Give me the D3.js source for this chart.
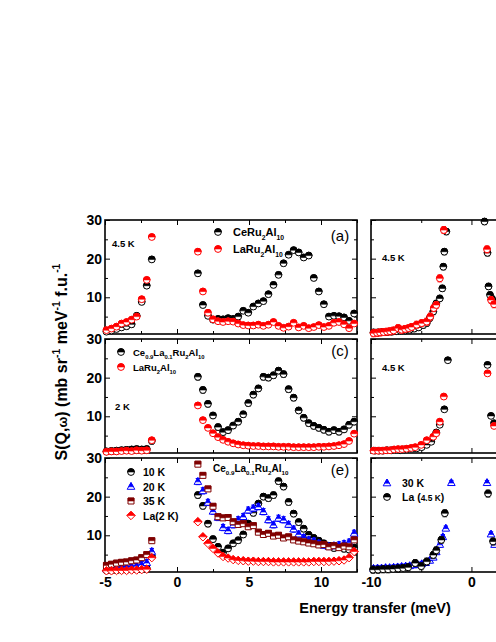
<!DOCTYPE html>
<html>
<head>
<meta charset="utf-8">
<script src="https://cdn.jsdelivr.net/npm/d3@7"></script>
<style>
  body { margin: 0; background: #fff; }
  svg { display: block; }
</style>
</head>
<body>
<div id="chart"></div>
<script>
// energy grids of the left panels (meV)
const eLow = [-4.9, -4.55, -4.2, -3.85, -3.5, -3.15, -2.8, -2.45, -2.1, -1.75];
const eHigh = [1.45, 1.8, 2.15, 2.5, 2.85, 3.2, 3.55, 3.9, 4.25, 4.6, 4.95, 5.3, 5.65, 6.0, 6.35, 6.7,
  7.05, 7.4, 7.75, 8.1, 8.45, 8.8, 9.15, 9.5, 9.85, 10.2, 10.55, 10.9, 11.25, 11.6, 11.95, 12.3];

// (a) 4.5 K
const aCeLow = [1.1, 1.4, 1.8, 2.2, 2.5, 3.0, 5.2, 8.8, 13.0, 19.8];
const aLaLow = [1.5, 1.9, 2.4, 3.2, 3.6, 4.2, 5.0, 9.5, 14.5, 25.6];
const aCeHigh = [16.2, 8.0, 5.2, 4.2, 4.4, 4.3, 4.6, 4.4, 5.0, 6.5, 6.0, 7.6, 8.4, 9.0, 10.8, 13.2,
  15.8, 18.8, 21.0, 22.2, 21.6, 20.3, 20.8, 15.0, 11.5, 8.2, 5.0, 5.2, 5.1, 4.8, 3.9, 5.8];
const aLaHigh = [21.8, 11.5, 6.0, 4.3, 3.8, 3.6, 3.8, 3.7, 3.2, 2.8, 2.7, 2.7, 2.9, 2.6, 2.9, 3.6,
  2.6, 2.1, 2.4, 3.4, 2.2, 2.6, 2.0, 2.3, 2.8, 2.3, 2.6, 3.4, 3.6, 3.0, 2.0, 3.2];

// (c) 2 K
const cCeLow = [0.9, 1.0, 1.1, 1.2, 1.3, 1.4, 1.5, 1.4, 1.5, 3.6];
const cLaLow = [0.8, 0.9, 0.9, 1.0, 1.1, 1.0, 1.2, 1.1, 1.2, 3.8];
const cCeHigh = [20.2, 16.8, 13.2, 10.2, 7.2, 5.9, 6.4, 7.6, 8.6, 10.5, 13.4, 15.6, 17.2, 20.2, 20.0, 20.6,
  21.8, 20.9, 17.0, 14.8, 11.5, 9.6, 8.2, 7.5, 7.0, 6.5, 6.0, 6.4, 6.0, 6.6, 7.8, 8.6];
const cLaHigh = [12.8, 9.0, 7.0, 5.6, 4.6, 3.9, 3.4, 3.0, 2.7, 2.5, 2.4, 2.3, 2.3, 2.2, 2.2, 2.2,
  2.1, 2.1, 2.1, 2.0, 2.0, 2.0, 2.0, 2.0, 2.1, 2.1, 2.2, 2.3, 2.5, 2.8, 3.6, 5.5];

// (e) temperature series
const e10Low = [0.9, 1.0, 1.0, 1.1, 1.1, 1.2, 1.2, 1.3, 1.4, 4.6];
const e20Low = [1.3, 1.4, 1.5, 1.6, 1.8, 1.9, 2.1, 2.4, 2.9, 5.8];
const e35Low = [2.2, 2.5, 2.8, 3.0, 3.1, 3.4, 3.6, 4.2, 5.0, 8.6];
const eLaLow = [0.8, 0.8, 0.9, 0.9, 0.9, 1.0, 1.0, 1.1, 1.2, 4.2];
const e10High = [20.4, 17.6, 13.0, 9.0, 7.0, 5.5, 6.6, 7.9, 8.7, 10.2, 13.0, 15.8, 18.2, 20.0, 19.6, 20.4,
  24.0, 22.6, 18.6, 15.6, 13.4, 11.7, 10.1, 9.3, 8.6, 7.9, 7.3, 6.7, 7.0, 6.5, 6.3, 6.8];
const e20High = [23.9, 21.5, 18.5, 16.2, 14.6, 12.0, 11.2, 12.7, 14.0, 14.8, 16.5, 17.0, 17.4, 16.1, 14.0, 12.7,
  14.4, 14.0, 12.8, 11.6, 10.3, 9.4, 8.8, 8.5, 7.9, 7.4, 7.1, 7.3, 7.5, 7.8, 8.2, 10.5];
const e35High = [28.4, 25.5, 22.0, 17.5, 14.8, 14.5, 14.6, 13.5, 12.8, 13.0, 12.2, 12.5, 10.8, 10.2, 10.5, 9.8,
  10.0, 9.3, 9.6, 8.8, 8.5, 8.3, 8.0, 7.8, 7.5, 7.6, 7.0, 7.3, 6.8, 7.2, 7.0, 8.8];
const eLaHigh = [13.5, 9.6, 7.9, 6.6, 5.4, 4.5, 4.1, 3.7, 3.5, 3.4, 3.3, 3.3, 3.2, 3.2, 3.2, 3.1,
  3.1, 3.1, 3.1, 3.1, 3.1, 3.1, 3.1, 3.2, 3.2, 3.2, 3.2, 3.3, 3.4, 3.6, 4.2, 5.8];

// right column, [energy, S]
const bCe = [[-9.75, 0.9], [-9.3, 0.9], [-8.85, 1.0], [-8.4, 1.0], [-7.95, 1.1], [-7.5, 1.2], [-7.05, 1.3],
  [-6.6, 1.4], [-6.15, 1.6], [-5.7, 1.9], [-5.25, 2.2], [-4.8, 2.8], [-4.45, 3.3], [-4.15, 4.6], [-3.8, 6.3],
  [-3.5, 8.4], [-3.15, 9.7], [-2.9, 12.3], [-2.8, 17.9], [-2.7, 21.8], [-2.5, 27.0],
  [1.3, 29.6], [1.6, 21.5], [1.7, 12.8], [1.85, 10.6], [2.05, 9.6], [2.3, 8.8]];
const bLa = [[-9.75, 0.7], [-9.4, 0.8], [-9.1, 0.9], [-8.75, 1.0], [-8.4, 1.1], [-8.1, 1.2], [-7.75, 1.4],
  [-7.3, 2.0], [-6.95, 1.6], [-6.6, 1.8], [-6.25, 2.0], [-5.95, 2.3], [-5.45, 2.9], [-4.95, 3.3], [-4.45, 3.7],
  [-4.1, 5.0], [-3.75, 7.2], [-3.5, 8.0], [-3.15, 14.9], [-2.75, 27.4],
  [1.55, 22.4], [1.95, 9.3], [2.25, 8.2]];
const dCe = [[-9.6, 1.1], [-9.2, 1.1], [-8.8, 1.1], [-8.4, 1.2], [-7.95, 1.2], [-7.55, 1.3], [-7.1, 1.2],
  [-6.7, 1.4], [-6.3, 1.5], [-5.9, 1.6], [-5.45, 1.7], [-4.95, 2.0], [-4.45, 2.6], [-4.0, 3.4], [-3.5, 5.8],
  [-3.15, 7.8], [-2.7, 11.8], [-2.35, 24.5], [1.6, 23.3], [1.95, 10.1], [2.25, 8.2]];
const dLa = [[-9.75, 1.1], [-9.3, 1.1], [-8.9, 1.1], [-8.5, 1.2], [-8.1, 1.2], [-7.7, 1.4], [-7.3, 1.5],
  [-6.9, 1.5], [-6.45, 1.6], [-6.0, 1.8], [-5.6, 2.0], [-5.0, 2.6], [-4.45, 3.8], [-3.8, 4.7], [-3.5, 5.6],
  [-3.15, 8.6], [-2.75, 15.1], [1.6, 21.1], [2.25, 7.5]];
const f30 = [[-9.75, 1.4], [-9.35, 1.5], [-8.95, 1.5], [-8.55, 1.6], [-8.15, 1.6], [-7.75, 1.7], [-7.35, 1.8],
  [-6.95, 1.9], [-6.55, 2.0], [-6.15, 2.1], [-5.75, 2.3], [-5.35, 2.4], [-4.95, 2.6], [-4.55, 2.9], [-4.15, 3.5],
  [-3.8, 4.3], [-3.5, 5.7], [-3.15, 7.6], [-2.85, 9.6], [-2.55, 11.8], [-2.0, 23.6],
  [1.55, 23.6], [1.95, 10.3], [2.3, 7.6]];
const fLa = [[-9.8, 1.1], [-9.3, 1.1], [-8.8, 1.2], [-8.3, 1.2], [-7.8, 1.3], [-7.3, 1.4], [-6.8, 1.5],
  [-6.3, 1.7], [-5.6, 2.8], [-5.0, 2.0], [-4.45, 3.2], [-3.8, 4.9], [-3.5, 6.1], [-3.0, 8.8], [-2.65, 15.7],
  [1.65, 20.8], [2.15, 8.4]];

// ticks
const yMajor = [10, 20, 30], yMinor = [5, 15, 25];
const xMajorL = [-5, 0, 5, 10], xMinorL = [-2.5, 2.5, 7.5, 12.5];
const xMajorR = [-10, 0, 10], xMinorR = [-5, 5];

const W = 496, H = 642;
const FONT = "'Liberation Sans', Arial, Helvetica, sans-serif";
const svg = d3.select("#chart").append("svg").attr("width", W).attr("height", H);

const xL = d3.scaleLinear().domain([-5, 12.5]).range([105, 357]);
const xR = d3.scaleLinear().domain([-10, 12.5]).range([371, 597]);
const rowTops = [220, 339, 458], rowH = 114;
const yRow = rowTops.map(t => d3.scaleLinear().domain([0.5, 30]).range([t + rowH, t]));

const SHAPES = {
  circle:   { full: "M-3.4,0A3.4,3.4 0 1,1 3.4,0A3.4,3.4 0 1,1 -3.4,0Z", top: "M-3.4,0A3.4,3.4 0 0,1 3.4,0Z" },
  triangle: { full: "M0,-4L3.8,2.8L-3.8,2.8Z", top: "M0,-4L2.4,0.3L-2.4,0.3Z" },
  square:   { full: "M-3,-3H3V3H-3Z", top: "M-3,-3H3V0H-3Z" },
  diamond:  { full: "M0,-4.2L4.2,0L0,4.2L-4.2,0Z", top: "M0,-4.2L4.2,0L-4.2,0Z" }
};

function styleText(sel, size, weight) {
  sel.attr("font-family", FONT).attr("font-size", size).attr("font-weight", weight || "bold").attr("fill", "#000");
}

function panel(x, y, xMajor, xMinor, xLabels, yLabels) {
  const g = svg.append("g");
  const [x0, x1] = x.range(), [y0, y1] = y.range();
  const put = (axis, tx, ty) => g.append("g")
    .attr("transform", `translate(${tx},${ty})`)
    .call(axis)
    .call(s => s.select(".domain").remove());
  // labels only where they fit inside the picture
  const fmt = d => (x(d) < W - 8 ? String(d) : "");
  // major + minor, all pointing inward
  const b = put(d3.axisBottom(x).tickValues(xMajor).tickSize(-5).tickSizeOuter(0).tickPadding(5).tickFormat(xLabels ? fmt : ""), 0, y0);
  put(d3.axisBottom(x).tickValues(xMinor).tickSize(-3).tickFormat(""), 0, y0);
  put(d3.axisTop(x).tickValues(xMajor).tickSize(-5).tickFormat(""), 0, y1);
  put(d3.axisTop(x).tickValues(xMinor).tickSize(-3).tickFormat(""), 0, y1);
  const l = put(d3.axisLeft(y).tickValues(yMajor).tickSize(-5).tickPadding(3).tickFormat(yLabels ? String : ""), x0, 0);
  put(d3.axisLeft(y).tickValues(yMinor).tickSize(-3).tickFormat(""), x0, 0);
  put(d3.axisRight(y).tickValues(yMajor).tickSize(-5).tickFormat(""), x1, 0);
  put(d3.axisRight(y).tickValues(yMinor).tickSize(-3).tickFormat(""), x1, 0);
  g.selectAll(".tick line").attr("stroke", "#000").attr("stroke-width", 1);
  styleText(b.selectAll("text"), 14);
  styleText(l.selectAll("text"), 14);
  g.append("rect")
    .attr("x", x0).attr("y", y1)
    .attr("width", x1 - x0).attr("height", y0 - y1)
    .attr("fill", "none").attr("stroke", "#000").attr("stroke-width", 1.6);
  return g;
}

function marker(g, shape, color) {
  g.append("path").attr("d", SHAPES[shape].full).attr("fill", "#fff").attr("stroke", color).attr("stroke-width", 1);
  g.append("path").attr("d", SHAPES[shape].top).attr("fill", color).attr("stroke", color).attr("stroke-width", 0.6);
}

function series(x, y, pts, shape, color, err) {
  const g = svg.append("g");
  const eb = g.selectAll("g.eb").data(pts).join("g").attr("class", "eb").attr("stroke", color).attr("stroke-width", 1);
  eb.append("line")
    .attr("x1", d => x(d[0])).attr("x2", d => x(d[0]))
    .attr("y1", d => y(d[1] - err)).attr("y2", d => y(d[1] + err));
  eb.append("line")
    .attr("x1", d => x(d[0]) - 2.2).attr("x2", d => x(d[0]) + 2.2)
    .attr("y1", d => y(d[1] + err)).attr("y2", d => y(d[1] + err));
  eb.append("line")
    .attr("x1", d => x(d[0]) - 2.2).attr("x2", d => x(d[0]) + 2.2)
    .attr("y1", d => y(d[1] - err)).attr("y2", d => y(d[1] - err));
  g.selectAll("g.mk").data(pts).join("g").attr("class", "mk")
    .attr("transform", d => `translate(${x(d[0])},${y(d[1])})`)
    .each(function () { marker(d3.select(this), shape, color); });
}

// text with sub/superscripts: parts = [[str, "n"|"sub"|"sup"|"small"], ...]
function rich(x, y, parts, size, anchor) {
  const t = svg.append("text").attr("x", x).attr("y", y).attr("text-anchor", anchor || "start");
  styleText(t, size);
  let shift = 0;
  parts.forEach(([s, kind]) => {
    const ts = t.append("tspan").text(s);
    let target = 0, fs = size;
    if (kind === "sub") { target = size * 0.32; fs = size * 0.62; }
    if (kind === "sup") { target = -size * 0.42; fs = size * 0.65; }
    if (kind === "small") { fs = size * 0.8; }
    ts.attr("font-size", fs).attr("dy", target - shift);
    shift = target;
  });
  return t;
}

function legendMark(x, y, shape, color) {
  marker(svg.append("g").attr("transform", `translate(${x},${y})`), shape, color);
}

const zipL = (lo, hi) => d3.zip(eLow, lo).concat(d3.zip(eHigh, hi));

// frames
panel(xL, yRow[0], xMajorL, xMinorL, false, true);
panel(xL, yRow[1], xMajorL, xMinorL, false, true);
panel(xL, yRow[2], xMajorL, xMinorL, true, true);
panel(xR, yRow[0], xMajorR, xMinorR, false, false);
panel(xR, yRow[1], xMajorR, xMinorR, false, false);
panel(xR, yRow[2], xMajorR, xMinorR, true, false);

// (a)
series(xL, yRow[0], zipL(aCeLow, aCeHigh), "circle", "#000", 0.7);
series(xL, yRow[0], zipL(aLaLow, aLaHigh), "circle", "#f00", 0.6);
// (c)
series(xL, yRow[1], zipL(cCeLow, cCeHigh), "circle", "#000", 0.8);
series(xL, yRow[1], zipL(cLaLow, cLaHigh), "circle", "#f00", 0.3);
// (e)
series(xL, yRow[2], zipL(e10Low, e10High), "circle", "#000", 0.8);
series(xL, yRow[2], zipL(e20Low, e20High), "triangle", "#0000ff", 0.8);
series(xL, yRow[2], zipL(e35Low, e35High), "square", "#800000", 0.6);
series(xL, yRow[2], zipL(eLaLow, eLaHigh), "diamond", "#f00", 0.3);
// right column
series(xR, yRow[0], bCe, "circle", "#000", 0.8);
series(xR, yRow[0], bLa, "circle", "#f00", 0.9);
series(xR, yRow[1], dCe, "circle", "#000", 0.6);
series(xR, yRow[1], dLa, "circle", "#f00", 0.6);
series(xR, yRow[2], f30, "triangle", "#0000ff", 0.6);
series(xR, yRow[2], fLa, "circle", "#000", 0.9);

// panel texts
rich(112, 247, [["4.5 K", "n"]], 9.5);
rich(115, 410, [["2 K", "n"]], 9.5);
rich(382, 261, [["4.5 K", "n"]], 9.5);
rich(382, 371, [["4.5 K", "n"]], 9.5);
[["(a)", 241], ["(c)", 356], ["(e)", 475]].forEach(([s, yy]) => {
  const t = svg.append("text").attr("x", 340).attr("y", yy).attr("text-anchor", "middle").text(s);
  styleText(t, 15, "normal");
});

const ce09 = [["Ce", "n"], ["0.9", "sub"], ["La", "n"], ["0.1", "sub"], ["Ru", "n"], ["2", "sub"], ["Al", "n"], ["10", "sub"]];
const la = [["LaRu", "n"], ["2", "sub"], ["Al", "n"], ["10", "sub"]];

// legend (a)
legendMark(218, 232, "circle", "#000");
rich(233, 236, [["CeRu", "n"], ["2", "sub"], ["Al", "n"], ["10", "sub"]], 11);
legendMark(218, 249, "circle", "#f00");
rich(233, 253, la, 11);
// legend (c)
legendMark(121, 352, "circle", "#000");
rich(133, 356, ce09, 9.5);
legendMark(121, 367, "circle", "#f00");
rich(133, 371, la, 9.5);
// legend (e)
rich(213, 472, ce09, 10);
[["10 K", "circle", "#000"], ["20 K", "triangle", "#0000ff"], ["35 K", "square", "#800000"], ["La(2 K)", "diamond", "#f00"]]
  .forEach(([s, shape, color], i) => {
    legendMark(131, 472 + i * 14.5, shape, color);
    rich(143, 476 + i * 14.5, [[s, "n"]], 10.5);
  });
// legend (f)
legendMark(387, 483, "triangle", "#0000ff");
rich(402, 487, [["30 K", "n"]], 10.5);
legendMark(387, 497, "circle", "#000");
rich(402, 501, [["La (", "n"], ["4.5 K", "small"], [")", "n"]], 10.5);

// axis titles
rich(375, 613, [["Energy transfer (meV)", "n"]], 14.5, "middle");
rich(0, 0, [["S(Q,", "n"], ["ω", "small"], [") (mb sr", "n"], ["-1", "sup"], [" meV", "n"], ["-1", "sup"], [" f.u.", "n"], ["-1", "sup"]], 16, "middle")
  .attr("transform", "translate(67,362) rotate(-90)");
</script>
</body>
</html>
